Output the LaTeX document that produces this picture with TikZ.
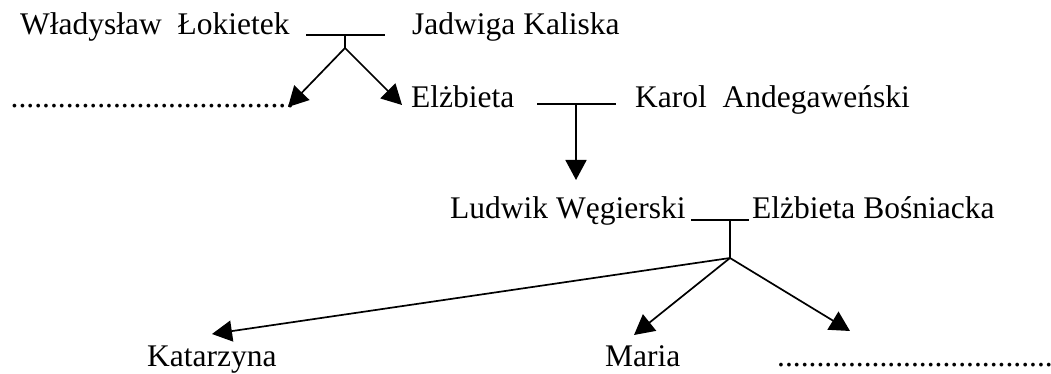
\documentclass[tikz,border=0pt]{standalone}
\usepackage{fontspec}
\setmainfont{Liberation Serif}
\usetikzlibrary{arrows.meta}
\begin{document}
\begin{tikzpicture}[x=1pt,y=-1pt,
  lbl/.style={anchor=base west,inner sep=0pt,font=\fontsize{31.5}{36}\selectfont},
  link/.style={line width=1.7pt},
  arr/.style={line width=1.7pt,-{Triangle[length=20pt,width=21pt]}}]
\useasboundingbox (0,0) rectangle (1051,374);
% texts
\node[lbl] (wl) at (20,35) {Władysław~~Łokietek};
\node[lbl] (jk) at (412,35) {Jadwiga Kaliska};
\node[lbl] (d1) at (10.5,108) {....................................};
\node[lbl] (el) at (411,108) {Elżbieta};
\node[lbl] (ka) at (635,108) {Karol~~Andegaweński};
\node[lbl] (lw) at (450,218) {Ludwik Węgierski};
\node[lbl] (eb) at (752,218) {Elżbieta Bośniacka};
\node[lbl] (kat) at (147,366) {Katarzyna};
\node[lbl] (ma) at (605,366) {Maria};
\node[lbl] (d2) at (777,366) {...................................};
% junction coordinates
\coordinate (m1a) at (306,35);
\coordinate (m1b) at (385,35);
\coordinate (m1c) at (345,35);
\coordinate (j1) at (345,48);
\coordinate (t1a) at (288,107);
\coordinate (t1b) at (402,105);
\coordinate (m2a) at (537,104);
\coordinate (m2b) at (616,104);
\coordinate (j2) at (576,104);
\coordinate (t2) at (576,180);
\coordinate (m3a) at (691,220);
\coordinate (m3b) at (749,220);
\coordinate (m3c) at (730,220);
\coordinate (j3) at (730,258);
\coordinate (t3a) at (212,334);
\coordinate (t3b) at (634,335);
\coordinate (t3c) at (850,331);
% connectors
\draw[link] (m1a) -- (m1b);
\draw[link] (m1c) -- (j1);
\draw[arr] (j1) -- (t1a);
\draw[arr] (j1) -- (t1b);
\draw[link] (m2a) -- (m2b);
\draw[arr] (j2) -- (t2);
\draw[link] (m3a) -- (m3b);
\draw[link] (m3c) -- (j3);
\draw[arr] (j3) -- (t3a);
\draw[arr] (j3) -- (t3b);
\draw[arr] (j3) -- (t3c);
\end{tikzpicture}
\end{document}
